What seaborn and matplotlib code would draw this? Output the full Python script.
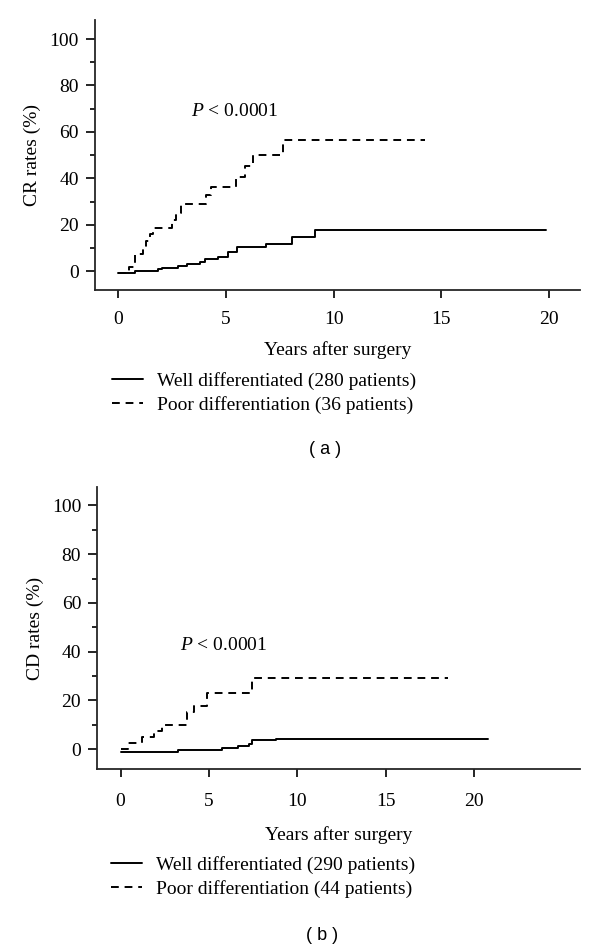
"""
Cumulative CR / CD rates by tumour differentiation (two stacked panels)
"""

import numpy as np
import pandas as pd
import matplotlib
matplotlib.use('Agg')
import matplotlib.pyplot as plt
from matplotlib.ticker import MultipleLocator
import seaborn as sns

# ---- data (years, cumulative %) ----
# (a) CR rates
cr_well_t = [0, 0.80, 1.86, 2.04, 2.79, 3.22, 3.79, 4.02, 4.64, 5.08, 5.53, 6.86, 8.09, 9.16, 19.88]
cr_well_y = [-0.7, 0.0, 1.0, 1.6, 2.3, 3.0, 4.0, 5.3, 6.4, 8.3, 10.5, 11.6, 14.6, 17.7, 17.7]
cr_poor_t = [0, 0.50, 0.80, 1.16, 1.30, 1.50, 1.62, 2.48, 2.71, 2.94, 4.10, 4.33, 5.49, 5.88, 6.24, 7.66, 14.23]
cr_poor_y = [-0.7, 1.9, 7.5, 10.2, 13.0, 15.9, 18.7, 22.0, 25.2, 29.2, 33.0, 36.3, 40.5, 45.5, 50.1, 56.7, 56.7]

# (b) CD rates
cd_well_t = [0, 3.24, 5.76, 6.67, 7.29, 7.44, 8.81, 20.8]
cd_well_y = [-1.3, -0.4, 0.4, 1.5, 2.2, 3.6, 4.4, 4.4]
cd_poor_t = [0, 0.41, 1.19, 1.90, 2.35, 3.77, 4.14, 4.90, 7.44, 18.55]
cd_poor_y = [0.0, 2.5, 4.9, 7.4, 9.8, 15.3, 17.7, 23.2, 29.1, 29.1]

groups = ['Well', 'Poor']
labels_a = ['Well differentiated (280 patients)', 'Poor differentiation (36 patients)']
labels_b = ['Well differentiated (290 patients)', 'Poor differentiation (44 patients)']
y_ticks = [0, 20, 40, 60, 80, 100]
x_ticks = [0, 5, 10, 15, 20]
p_text = '$P$ < 0.0001'

# ---- style ----
sns.set_style('ticks')
serif = ['Liberation Serif', 'DejaVu Serif']
plt.rcParams['font.family'] = serif
plt.rcParams['mathtext.fontset'] = 'custom'
plt.rcParams['mathtext.rm'] = 'Liberation Serif'
plt.rcParams['mathtext.it'] = 'Liberation Serif:italic'
plt.rcParams['axes.linewidth'] = 1.3
plt.rcParams['text.color'] = 'black'
plt.rcParams['axes.labelcolor'] = 'black'
plt.rcParams['xtick.color'] = 'black'
plt.rcParams['ytick.color'] = 'black'

FS = 14


def make_df(wt, wy, pt, py):
    return pd.concat([
        pd.DataFrame({'years': wt, 'rate': wy, 'group': groups[0]}),
        pd.DataFrame({'years': pt, 'rate': py, 'group': groups[1]}),
    ], ignore_index=True)


def draw_panel(ax, df, ylab, xlim, ylim, p_xy, xpad, xlabpad):
    sns.lineplot(data=df, x='years', y='rate', style='group', style_order=groups,
                 dashes={groups[0]: '', groups[1]: (4, 3)}, color='black',
                 linewidth=1.4, drawstyle='steps-post', estimator=None,
                 sort=False, legend=False, ax=ax)
    ax.set_xlim(*xlim)
    ax.set_ylim(*ylim)
    ax.set_xticks(x_ticks)
    ax.set_yticks(y_ticks)
    ax.yaxis.set_minor_locator(MultipleLocator(10))
    ax.tick_params(axis='y', which='major', direction='out', length=6.5, width=1.2,
                   pad=5, labelsize=FS)
    ax.tick_params(axis='y', which='minor', direction='out', length=3.6, width=1.2)
    ax.tick_params(axis='x', which='major', direction='out', length=5.5, width=1.2,
                   pad=xpad, labelsize=FS)
    ax.set_xlabel('Years after surgery', fontsize=FS, labelpad=xlabpad)
    ax.set_ylabel(ylab, fontsize=FS, labelpad=6)
    ax.text(p_xy[0], p_xy[1], p_text, fontsize=FS, ha='left', va='center')
    sns.despine(ax=ax)


fig = plt.figure(figsize=(6, 9.5), dpi=100)

# (a)
ax1 = fig.add_axes([0.158, 0.695, 0.808, 0.284])
draw_panel(ax1, make_df(cr_well_t, cr_well_y, cr_poor_t, cr_poor_y),
           'CR rates (%)', (-1.08, 21.42), (-7.9, 108.2), (3.4, 68.8), 9.5, 10)
fig.legend(ax1.lines[:2], labels_a, loc='upper left',
           bbox_to_anchor=(112 / 600, 1 - 372 / 950), frameon=False,
           fontsize=FS, handlelength=1.6, handletextpad=0.72,
           labelspacing=0.29, borderpad=0, borderaxespad=0)
fig.text(325 / 600, 1 - 449 / 950, '( a )', fontsize=13, ha='center', va='center',
         family=['Liberation Sans', 'DejaVu Sans'])

# (b)
ax2 = fig.add_axes([0.162, 0.1905, 0.805, 0.2968])
draw_panel(ax2, make_df(cd_well_t, cd_well_y, cd_poor_t, cd_poor_y),
           'CD rates (%)', (-1.32, 26.0), (-8.1, 107.5), (3.39, 42.7), 11.5, 12)
fig.legend(ax2.lines[:2], labels_b, loc='upper left',
           bbox_to_anchor=(111 / 600, 1 - 856 / 950), frameon=False,
           fontsize=FS, handlelength=1.6, handletextpad=0.72,
           labelspacing=0.29, borderpad=0, borderaxespad=0)
fig.text(322 / 600, 1 - 935 / 950, '( b )', fontsize=13, ha='center', va='center',
         family=['Liberation Sans', 'DejaVu Sans'])

fig.savefig('out.png', dpi=100)
print('saved out.png')
